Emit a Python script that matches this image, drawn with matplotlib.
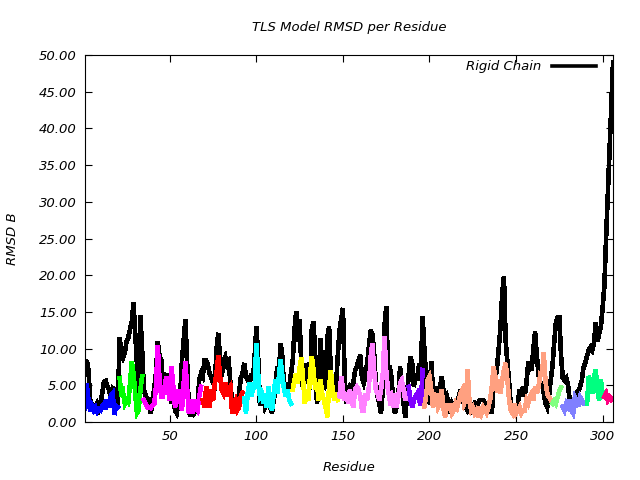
import numpy as np
import matplotlib
matplotlib.use('Agg')
import matplotlib.pyplot as plt

# residues 1..306
residues = np.arange(1, 307)

# rigid chain RMSD (black)
rigid_chain = [
    7.6, 8.4, 7.0, 3.0, 2.4, 2.2, 2.0, 2.5, 1.8, 2.6,
    4.0, 5.5, 5.6, 4.8, 4.4, 2.8, 4.6, 4.4, 3.0, 2.2,
    11.5, 9.6, 8.8, 9.4, 11.0, 11.5, 12.6, 13.6, 16.2, 12.0,
    8.0, 4.0, 14.5, 9.8, 4.4, 3.6, 3.2, 3.0, 1.2, 3.0,
    4.5, 6.6, 10.9, 9.0, 8.5, 5.0, 6.0, 6.6, 5.3, 5.3,
    2.5, 3.5, 1.6, 1.2, 2.5, 3.5, 8.4, 11.2, 13.9, 8.0,
    1.5, 0.8, 2.0, 1.2, 1.6, 2.5, 5.7, 6.6, 6.2, 8.4,
    8.4, 7.8, 6.6, 6.0, 5.3, 5.0, 10.0, 12.1, 8.7, 6.2,
    8.4, 8.9, 7.8, 8.2, 5.3, 2.5, 1.2, 2.0, 2.5, 4.0,
    6.0, 6.6, 8.0, 6.2, 5.7, 5.3, 6.6, 5.7, 8.9, 13.0,
    9.0, 2.5, 2.5, 3.5, 2.0, 2.5, 3.5, 2.0, 1.2, 3.0,
    4.4, 7.5, 6.6, 10.7, 8.9, 4.4, 5.3, 4.4, 4.8, 6.6,
    8.4, 12.5, 15.0, 11.0, 13.9, 7.1, 4.4, 5.7, 8.0, 6.6,
    4.4, 12.5, 13.7, 9.0, 2.5, 4.8, 11.4, 7.5, 4.4, 5.7,
    11.6, 13.0, 6.6, 4.4, 3.0, 4.8, 9.0, 12.5, 14.0, 15.5,
    6.0, 2.5, 4.0, 4.8, 4.4, 5.3, 7.0, 7.5, 8.4, 9.1,
    6.0, 5.3, 6.2, 8.0, 10.3, 12.5, 12.0, 9.4, 5.3, 3.5,
    2.5, 1.2, 4.4, 13.0, 15.7, 7.5, 7.5, 6.2, 3.0, 1.2,
    2.1, 3.5, 7.5, 4.8, 2.5, 0.7, 3.5, 6.5, 8.9, 8.0,
    4.8, 6.5, 5.7, 8.0, 6.6, 14.4, 10.0, 6.2, 2.5, 3.5,
    8.2, 4.4, 3.9, 4.8, 3.0, 4.4, 6.2, 4.4, 3.0, 3.5,
    2.5, 1.2, 2.5, 2.0, 2.5, 3.0, 3.5, 4.4, 3.0, 2.5,
    2.1, 1.6, 2.1, 1.6, 2.1, 2.5, 2.1, 2.5, 3.0, 3.0,
    3.0, 2.5, 2.1, 2.5, 2.1, 1.2, 4.8, 5.7, 7.5, 10.0,
    13.0, 17.5, 19.8, 11.0, 8.2, 5.3, 2.1, 1.6, 2.1, 2.1,
    2.5, 4.4, 3.5, 4.8, 3.5, 5.3, 8.0, 8.0, 7.0, 10.0,
    12.3, 9.0, 6.5, 4.8, 5.5, 3.9, 2.5, 2.0, 3.4, 5.7,
    7.5, 10.7, 13.5, 14.3, 14.3, 9.0, 6.0, 5.7, 6.0, 5.0,
    3.0, 3.0, 2.5, 3.0, 4.0, 4.3, 4.8, 5.7, 7.5, 8.0,
    9.0, 9.8, 10.2, 9.8, 10.7, 13.5, 11.0, 12.0, 13.0, 15.5,
    18.5, 25.0, 31.0, 37.0, 43.0, 49.0,
]

# TLS group RMSD, one value per residue
tls_groups = [
    # group 1 (1-20)
    1.8, 5.2, 3.0, 1.5, 2.2, 1.6, 2.0, 1.4, 1.8, 1.6,
    2.2, 2.5, 1.8, 3.0, 2.0, 3.6, 3.9, 1.0, 2.2, 2.0,
    # group 2 (21-34)
    6.0, 3.5, 4.0, 2.5, 3.0, 2.7, 5.3, 8.2, 6.6, 3.9, 1.2, 1.6, 4.4, 6.2,
    # group 3 (35-68)
    3.0, 2.5, 2.0, 2.0, 1.9, 2.3, 2.5, 4.8, 10.4, 6.0,
    3.5, 3.5, 4.8, 6.2, 4.4, 3.0, 7.5, 4.8, 2.0, 3.0,
    4.4, 3.0, 1.6, 5.3, 8.2, 4.5, 1.2, 3.0, 1.2, 3.0,
    2.0, 1.6, 3.5, 4.8,
    # group 4 (69-92)
    3.0, 2.0, 4.8, 3.9, 2.0, 4.4, 3.0, 5.3, 6.6, 9.1,
    6.2, 4.4, 3.9, 5.3, 3.5, 4.4, 4.8, 1.2, 2.5, 3.0,
    1.6, 2.0, 3.5, 4.0,
    # group 5 (93-120)
    3.2, 1.2, 3.9, 5.3, 3.5, 4.4, 4.8, 10.7, 6.6, 3.5,
    3.9, 2.5, 3.9, 2.0, 4.8, 2.5, 1.6, 3.9, 5.7, 3.9,
    6.2, 8.5, 6.2, 4.4, 3.5, 4.4, 3.0, 2.5,
    # group 6 (121-147)
    4.4, 5.7, 6.6, 5.3, 7.5, 8.7, 5.7, 2.5, 4.4, 3.0,
    6.2, 8.9, 7.0, 4.4, 5.3, 3.0, 5.7, 3.9, 3.0, 2.0,
    0.7, 4.8, 7.0, 4.4, 3.0, 3.9, 3.0,
    # group 7 (148-187)
    3.5, 6.2, 4.4, 3.0, 3.9, 2.5, 4.4, 3.0, 2.0, 4.4,
    4.8, 4.4, 3.5, 1.6, 1.6, 3.9, 3.0, 4.8, 8.9, 10.7,
    7.0, 4.4, 3.9, 3.0, 4.4, 6.5, 11.6, 7.0, 4.4, 3.0,
    3.5, 2.0, 3.9, 2.0, 3.5, 5.3, 5.7, 4.4, 3.0, 3.9,
    # group 8 (188-196)
    4.8, 3.0, 2.0, 3.0, 3.5, 3.9, 3.0, 2.3, 7.1,
    # group 9 (197-270)
    2.1, 3.5, 5.7, 6.2, 4.4, 2.0, 3.0, 3.9, 2.0, 2.5,
    4.4, 2.0, 0.7, 2.5, 1.6, 2.5, 1.2, 1.6, 2.5, 2.0,
    3.0, 3.9, 4.4, 2.5, 3.0, 7.1, 3.0, 1.6, 2.0, 1.2,
    1.6, 0.7, 2.0, 1.2, 2.0, 1.6, 1.2, 2.0, 3.0, 4.8,
    7.5, 6.2, 4.0, 5.7, 3.9, 5.7, 7.1, 8.0, 5.7, 3.0,
    1.6, 1.2, 2.5, 1.2, 1.6, 2.0, 1.2, 1.6, 1.6, 3.0,
    2.5, 3.5, 3.9, 3.0, 4.8, 3.9, 4.8, 6.6, 6.5, 9.4,
    5.5, 3.9, 3.4, 3.0,
    # group 10 (271-276)
    2.5, 2.9, 2.5, 3.4, 4.3, 4.7,
    # group 11 (277-290)
    2.1, 1.6, 2.5, 2.1, 3.0, 1.6, 1.2, 3.4, 3.0, 2.1, 3.4, 3.0, 2.5, 2.5,
    # group 12 (291-300)
    2.5, 6.2, 5.7, 3.9, 6.2, 7.1, 4.3, 3.0, 5.7, 3.9,
    # group 13 (301-306)
    3.4, 3.9, 3.0, 3.4, 3.0, 3.2,
]

# first and last residue of each TLS group
group_start = [1, 21, 35, 69, 93, 121, 148, 188, 197, 271, 277, 291, 301]
group_end = [20, 34, 68, 92, 120, 147, 187, 196, 270, 276, 290, 300, 306]
group_colors = ['#0000ff', '#00ff00', '#ff00ff', '#ff0000', '#00ffff', '#ffff00',
                '#ff80ff', '#8000ff', '#ffa080', '#80ff80', '#8080ff', '#00ff80', '#ff0080']

plt.rcParams['font.family'] = 'DejaVu Sans'
plt.rcParams['font.style'] = 'italic'
plt.rcParams['font.size'] = 9

fig = plt.figure(figsize=(6.4, 4.8), dpi=100)
ax = fig.add_axes([85/640, 58/480, 528/640, 367/480])

tls = np.array(tls_groups)
ax.plot(residues, rigid_chain, color='black', lw=2.6, antialiased=False,
        solid_joinstyle='miter', label='Rigid Chain')
for s, e, c in zip(group_start, group_end, group_colors):
    ax.plot(residues[s-1:e], tls[s-1:e], color=c, lw=2.6, antialiased=False,
            solid_joinstyle='miter')

ax.set_xlim(1, 306)
ax.set_ylim(0, 50)
ax.set_xticks(np.arange(50, 301, 50))
ax.set_yticks(np.arange(0, 51, 5))
ax.yaxis.set_major_formatter(matplotlib.ticker.FormatStrFormatter('%.2f'))
ax.tick_params(direction='in', length=5, width=0.8, top=True, right=True,
               labelsize=9.5, pad=6)
for lab in ax.get_xticklabels() + ax.get_yticklabels():
    lab.set_fontstyle('italic')
for sp in ax.spines.values():
    sp.set_linewidth(0.8)

ax.set_title('TLS Model RMSD per Residue', fontstyle='italic', fontsize=9.5, pad=17)
ax.set_xlabel('Residue', fontstyle='italic', fontsize=9.5, labelpad=13)
ax.set_ylabel('RMSD B', fontstyle='italic', fontsize=9.5, labelpad=14)

leg = ax.legend(loc='upper right', bbox_to_anchor=(0.977, 1.0), frameon=False,
                markerfirst=False, handlelength=3.3, fontsize=9.5, borderaxespad=0)

fig.savefig('out.png', dpi=100)
